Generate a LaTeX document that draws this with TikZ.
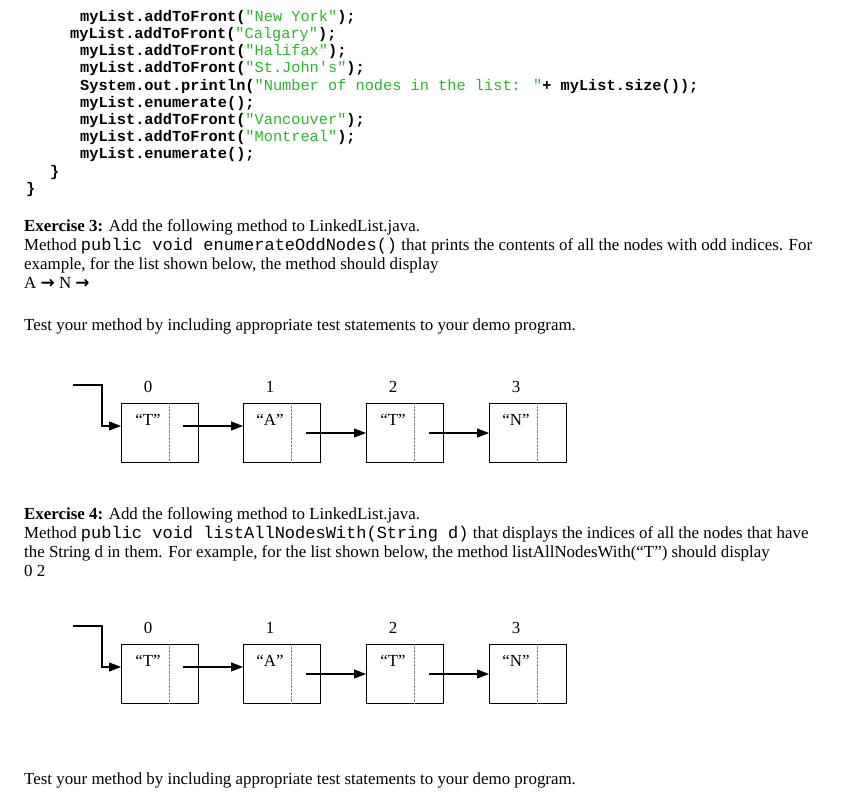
\documentclass[tikz,border=0pt]{standalone}
\usepackage{fontspec}
\setmainfont{Liberation Serif}
\newfontfamily\codefont{Liberation Mono}
\newfontfamily\symfont{DejaVu Sans}
\usetikzlibrary{arrows.meta}
\definecolor{strg}{RGB}{40,185,40}
\newcommand{\cs}[1]{\textcolor{strg}{\mdseries #1}}
\tikzset{
 code/.style={anchor=base west,inner sep=0,font=\codefont\bfseries\fontsize{15.3pt}{16pt}\selectfont},
 txt/.style={anchor=base west,inner sep=0,font=\fontsize{16.9pt}{18pt}\selectfont},
 idx/.style={anchor=base,inner sep=0,font=\fontsize{16.9pt}{18pt}\selectfont},
 cell/.style={draw,line width=0.9pt},
 arr/.style={-{Triangle[length=12pt,width=9pt]},line width=1.1pt},
}
\newcommand{\mc}[1]{{\codefont\fontsize{17pt}{16pt}\selectfont #1}}
\newcommand{\listdiag}[2]{%
 \begin{scope}[yshift=#1]
 \foreach \i/\x/\lab in {0/121/“T”,1/243/“A”,2/366/“T”,3/489/“N”}{
  \node[idx] (#2i\i) at (\x+27,-392) {\i};
  \draw[cell] (\x,-403) rectangle (\x+77,-462);
  \draw[gray,densely dotted] (\x+48,-403) -- (\x+48,-462);
  \coordinate (#2n\i) at (\x,-426);
  \node[idx] (#2l\i) at (\x+27,-425) {\lab};
 }
 \coordinate (#2s) at (73,-385);
 \draw[line width=1.1pt] (#2s) -- (102,-385) -- (102,-426);
 \draw[arr] (101.45,-426) -- (#2n0);
 \coordinate (#2p0) at (183,-426);
 \coordinate (#2p1) at (306,-433);
 \coordinate (#2p2) at (429,-433);
 \draw[arr] (#2p0) -- (#2n1);
 \draw[arr] (#2p1) -- (366,-433);
 \draw[arr] (#2p2) -- (489,-433);
 \end{scope}}
\begin{document}
\begin{tikzpicture}[x=1pt,y=1pt]
\useasboundingbox (0,0) rectangle (854,-800);
\node[code] (c1) at (80,-22) {myList.addToFront(\cs{"New York"});};
\node[code] (c2) at (70,-39) {myList.addToFront(\cs{"Calgary"});};
\node[code] (c3) at (80,-56) {myList.addToFront(\cs{"Halifax"});};
\node[code] (c4) at (80,-73) {myList.addToFront(\cs{"St.John's"});};
\node[code] (c5) at (80,-90) {System.out.println(\cs{"Number of nodes in the list: "}+ myList.size());};
\node[code] (c6) at (80,-107) {myList.enumerate();};
\node[code] (c7) at (80,-124) {myList.addToFront(\cs{"Vancouver"});};
\node[code] (c8) at (80,-141) {myList.addToFront(\cs{"Montreal"});};
\node[code] (c9) at (80,-158) {myList.enumerate();};
\node[code] (c10) at (50,-176) {\}};
\node[code] (c11) at (26,-193) {\}};
\node[txt] (t1) at (24,-231) {\textbf{Exercise 3:} Add the following method to LinkedList.java.};
\node[txt] (t2) at (24,-250) {Method \mc{public void enumerateOddNodes()} that prints the contents of all the nodes with odd indices. For};
\node[txt] (t3) at (24,-269) {example, for the list shown below, the method should display};
\node[txt] (t4) at (24,-288) {A {\symfont\bfseries →} N {\symfont\bfseries →}};
\node[txt] (t5) at (24,-330) {Test your method by including appropriate test statements to your demo program.};
\listdiag{0pt}{a}
\node[txt] (u1) at (24,-519) {\textbf{Exercise 4:} Add the following method to LinkedList.java.};
\node[txt] (u2) at (24,-538) {Method \mc{public void listAllNodesWith(String d)} that displays the indices of all the nodes that have};
\node[txt] (u3) at (24,-557) {the String d in them. For example, for the list shown below, the method listAllNodesWith(“T”) should display};
\node[txt] (u4) at (24,-576) {0 2};
\listdiag{-241pt}{b}
\node[txt] (u5) at (24,-784) {Test your method by including appropriate test statements to your demo program.};
\end{tikzpicture}
\end{document}
